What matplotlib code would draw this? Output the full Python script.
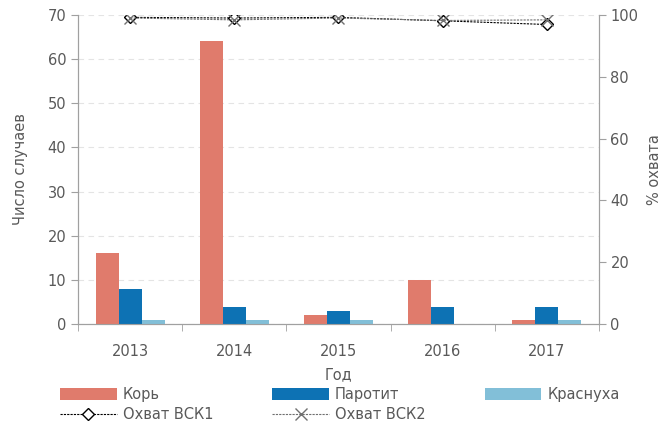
import matplotlib.pyplot as plt
import numpy as np

years = ['2013', '2014', '2015', '2016', '2017']
measles = [16, 64, 2, 10, 1]
mumps = [8, 4, 3, 4, 4]
rubella = [1, 1, 1, 0, 1]
cov1 = [99.2, 99.0, 99.2, 98.1, 96.9]
cov2 = [99.0, 98.4, 99.0, 98.2, 98.4]

grey = '#595959'
plt.rcParams['font.family'] = 'DejaVu Sans'
plt.rcParams['font.size'] = 10.5

fig = plt.figure(figsize=(6.63, 4.26), dpi=100)
ax = fig.add_axes([0.118, 0.239, 0.785, 0.726])
x = np.arange(len(years))
w = 0.22

ax.bar(x - w, measles, w, color='#E07B6C', label='Корь', zorder=3)
ax.bar(x, mumps, w, color='#0D72B4', label='Паротит', zorder=3)
ax.bar(x + w, rubella, w, color='#82BFD8', label='Краснуха', zorder=3)

ax.set_xlim(-0.5, 4.5)
ax.set_ylim(0, 70)
ax.set_yticks(range(0, 71, 10))
ax.set_xticks(x)
ax.set_xticklabels(years)
ax.set_xticks(np.arange(-0.5, 5, 1), minor=True)
ax.tick_params(axis='x', which='major', length=0, pad=14, colors=grey, labelsize=10.5)
ax.tick_params(axis='x', which='minor', length=5, color='#a0a0a0', direction='out')
ax.tick_params(axis='y', length=5, color='#a0a0a0', colors=grey)
ax.yaxis.grid(True, ls=(0, (5, 4)), color='#e4e4e4', lw=0.8, zorder=0)
ax.spines['top'].set_visible(False)
for s in ['left', 'bottom', 'right']:
    ax.spines[s].set_color('#a0a0a0')
ax.set_ylabel('Число случаев', color=grey, labelpad=14)
ax.set_xlabel('Год', color=grey, labelpad=6)

ax2 = ax.twinx()
ax2.set_ylim(0, 100)
ax2.set_yticks(range(0, 101, 20))
ax2.tick_params(axis='y', length=5, color='#a0a0a0', colors=grey)
ax2.spines['top'].set_visible(False)
for s in ['left', 'bottom', 'right']:
    ax2.spines[s].set_color('#a0a0a0')
ax2.set_ylabel('% охвата', color=grey, labelpad=6)
l1, = ax2.plot(x, cov1, color='black', ls=(0, (2, 1)), lw=0.8, marker='D',
               mfc='white', mec='black', ms=6, label='Охват ВСК1', zorder=4)
l2, = ax2.plot(x, cov2, color='#707070', ls=(0, (2, 1)), lw=0.8, marker='x',
               mec='#707070', ms=8, label='Охват ВСК2', zorder=4)

h, lab = ax.get_legend_handles_labels()
handles = [h[0], l1, h[1], l2, h[2]]
labels = [lab[0], 'Охват ВСК1', lab[1], 'Охват ВСК2', lab[2]]
leg = fig.legend(handles, labels, ncol=3, loc='lower left', bbox_to_anchor=(0.0705, -0.022),
                 frameon=False, handlelength=3.9, handleheight=0.9, columnspacing=4.05,
                 labelspacing=0.35, handletextpad=0.4)
for t in leg.get_texts():
    t.set_color(grey)

fig.savefig('out.png', dpi=100)
